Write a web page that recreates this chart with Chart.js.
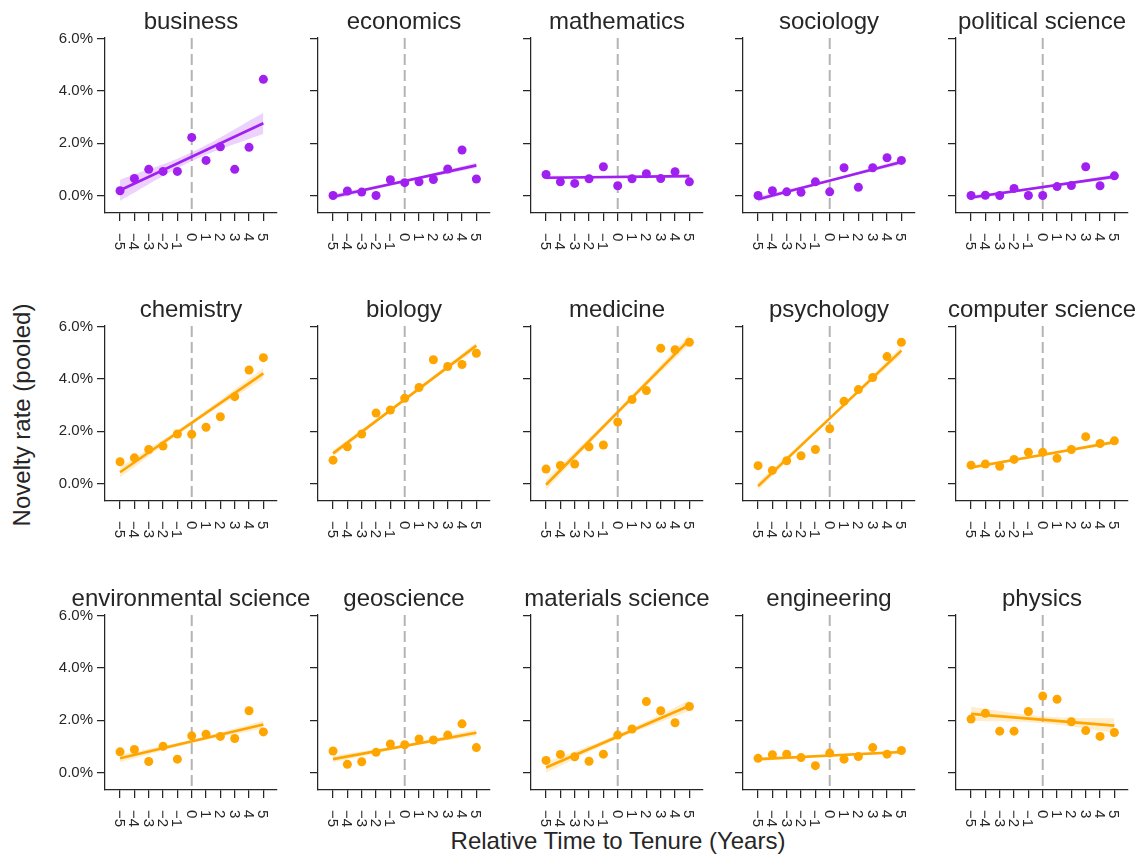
<!DOCTYPE html>
<html lang="en">
<head>
<meta charset="UTF-8">
<title>Novelty rate around tenure</title>
<script src="https://cdn.jsdelivr.net/npm/chart.js"></script>
<style>
  body { margin: 0; background: #fff; }
  #wrap { position: relative; width: 1142px; height: 857px; overflow: hidden;
          font-family: "Liberation Sans", Arial, sans-serif; color: #262626; }
  #wrap canvas { position: absolute; }
  .axis-title { position: absolute; font-size: 24px; white-space: nowrap; }
  #ytitle { left: 22px; top: 415px; transform: translate(-50%, -50%) rotate(-90deg); }
  #xtitle { left: 618px; top: 841px; transform: translate(-50%, -50%); }
</style>
</head>
<body>
<div id="wrap">
  <div class="axis-title" id="ytitle">Novelty rate (pooled)</div>
  <div class="axis-title" id="xtitle">Relative Time to Tenure (Years)</div>
</div>
<script>
// panels, left to right, top to bottom
const fields = ['business', 'economics', 'mathematics', 'sociology', 'political science',
                'chemistry', 'biology', 'medicine', 'psychology', 'computer science',
                'environmental science', 'geoscience', 'materials science', 'engineering', 'physics'];
const group = ['social', 'social', 'social', 'social', 'social',
               'other', 'other', 'other', 'other', 'other',
               'other', 'other', 'other', 'other', 'other'];

const years = [-5, -4, -3, -2, -1, 0, 1, 2, 3, 4, 5];
const yearLabels = ['\u22125', '\u22124', '\u22123', '\u22122', '\u22121', '0', '1', '2', '3', '4', '5'];
const yTicks = [0, 2, 4, 6];
const yTickLabels = ['0.0%', '2.0%', '4.0%', '6.0%'];

// novelty rate (%) per year relative to tenure
const business = [0.18, 0.65, 1.0, 0.92, 0.92, 2.22, 1.34, 1.86, 1.0, 1.84, 4.44];
const economics = [0.0, 0.17, 0.13, 0.0, 0.6, 0.49, 0.52, 0.61, 1.01, 1.74, 0.63];
const mathematics = [0.8, 0.52, 0.46, 0.64, 1.1, 0.37, 0.64, 0.83, 0.65, 0.91, 0.52];
const sociology = [0.0, 0.18, 0.14, 0.12, 0.52, 0.14, 1.06, 0.31, 1.06, 1.44, 1.34];
const politicalScience = [0.0, 0.01, 0.0, 0.27, 0.0, 0.0, 0.34, 0.38, 1.1, 0.37, 0.75];
const chemistry = [0.83, 0.98, 1.3, 1.43, 1.89, 1.88, 2.15, 2.55, 3.32, 4.34, 4.81];
const biology = [0.89, 1.4, 1.89, 2.69, 2.81, 3.26, 3.67, 4.73, 4.47, 4.55, 4.98];
const medicine = [0.55, 0.69, 0.74, 1.4, 1.47, 2.35, 3.21, 3.55, 5.17, 5.11, 5.4];
const psychology = [0.68, 0.5, 0.87, 1.06, 1.3, 2.09, 3.14, 3.59, 4.05, 4.85, 5.4];
const computerScience = [0.7, 0.74, 0.66, 0.92, 1.19, 1.19, 0.96, 1.3, 1.79, 1.53, 1.63];
const environmentalScience = [0.79, 0.88, 0.42, 1.0, 0.51, 1.4, 1.46, 1.38, 1.3, 2.36, 1.55];
const geoscience = [0.82, 0.31, 0.41, 0.77, 1.09, 1.06, 1.28, 1.24, 1.43, 1.86, 0.95];
const materialsScience = [0.46, 0.69, 0.6, 0.43, 0.7, 1.43, 1.66, 2.71, 2.36, 1.9, 2.52];
const engineering = [0.54, 0.68, 0.7, 0.57, 0.26, 0.74, 0.51, 0.61, 0.95, 0.7, 0.84];
const physics = [2.04, 2.26, 1.58, 1.58, 2.33, 2.92, 2.8, 1.94, 1.6, 1.38, 1.53];

// fitted line at year -5 and 5, and half width of its band (ends, middle)
const fitStart = [0.2, -0.05, 0.68, -0.14, -0.08, 0.43, 1.15, -0.05, -0.1, 0.61, 0.54, 0.51, 0.19, 0.51, 2.24];
const fitEnd = [2.76, 1.15, 0.74, 1.28, 0.72, 4.21, 5.27, 5.5, 5.08, 1.58, 1.83, 1.52, 2.55, 0.78, 1.79];
const bandEnd = [0.4, 0.1, 0.07, 0.1, 0.08, 0.2, 0.12, 0.2, 0.15, 0.07, 0.15, 0.12, 0.2, 0.07, 0.27];
const bandMid = [0.17, 0.05, 0.03, 0.05, 0.04, 0.09, 0.06, 0.09, 0.07, 0.03, 0.07, 0.06, 0.09, 0.03, 0.13];

const series = [business, economics, mathematics, sociology, politicalScience,
                chemistry, biology, medicine, psychology, computerScience,
                environmentalScience, geoscience, materialsScience, engineering, physics];

const colors = { social: '#a020f0', other: '#ffa500' };
const bands = { social: 'rgba(160, 32, 240, 0.2)', other: 'rgba(255, 165, 0, 0.2)' };

const panelLeft = [105, 318, 531, 743, 956];
const panelTop = [38, 326, 615];
const plotW = 172, plotH = 175;
const padL = 10, axisW = 60, padR = 58, padT = 40, axisH = 85;
const ink = '#262626';
const fontFamily = '"Liberation Sans", Arial, sans-serif';

const panelDecor = {
  id: 'panelDecor',
  beforeDatasetsDraw(chart) {
    const { ctx, chartArea, scales } = chart;
    const x0 = scales.x.getPixelForValue(0);
    ctx.save();
    ctx.strokeStyle = 'rgba(140, 140, 140, 0.65)';
    ctx.lineWidth = 2;
    ctx.setLineDash([11, 5]);
    ctx.beginPath();
    ctx.moveTo(x0, chartArea.top);
    ctx.lineTo(x0, chartArea.bottom);
    ctx.stroke();
    ctx.restore();
  },
  afterDraw(chart) {
    const { ctx, chartArea, scales } = chart;
    ctx.save();
    ctx.fillStyle = ink;
    ctx.font = '24px ' + fontFamily;
    ctx.textAlign = 'center';
    ctx.textBaseline = 'alphabetic';
    ctx.fillText(chart.options.panelTitle, (chartArea.left + chartArea.right) / 2, chartArea.top - 9);

    ctx.font = '15px ' + fontFamily;
    ctx.textAlign = 'left';
    ctx.textBaseline = 'middle';
    years.forEach((yr, k) => {
      const px = scales.x.getPixelForValue(yr);
      ctx.save();
      ctx.translate(px - 1, chartArea.bottom + 20);
      ctx.rotate(Math.PI / 2);
      ctx.fillText(yearLabels[k], 0, 0);
      ctx.restore();
    });
    ctx.restore();
  }
};

const wrap = document.getElementById('wrap');

fields.forEach((name, i) => {
  const col = i % 5, row = Math.floor(i / 5);
  const canvas = document.createElement('canvas');
  const w = padL + axisW + plotW + padR;
  const h = padT + plotH + axisH;
  canvas.width = w;
  canvas.height = h;
  canvas.style.width = w + 'px';
  canvas.style.height = h + 'px';
  canvas.style.left = (panelLeft[col] - padL - axisW) + 'px';
  canvas.style.top = (panelTop[row] - padT) + 'px';
  wrap.appendChild(canvas);

  const c = colors[group[i]];
  const mid = (fitStart[i] + fitEnd[i]) / 2;

  new Chart(canvas, {
    type: 'line',
    data: {
      datasets: [
        {
          data: [{ x: -5, y: fitStart[i] }, { x: 5, y: fitEnd[i] }],
          borderColor: c, borderWidth: 2.6, pointRadius: 0, fill: false
        },
        {
          data: [{ x: -5, y: fitStart[i] + bandEnd[i] }, { x: 0, y: mid + bandMid[i] }, { x: 5, y: fitEnd[i] + bandEnd[i] }],
          borderWidth: 0, pointRadius: 0, tension: 0.4, fill: '+1', backgroundColor: bands[group[i]]
        },
        {
          data: [{ x: -5, y: fitStart[i] - bandEnd[i] }, { x: 0, y: mid - bandMid[i] }, { x: 5, y: fitEnd[i] - bandEnd[i] }],
          borderWidth: 0, pointRadius: 0, tension: 0.4, fill: false
        },
        {
          type: 'scatter',
          data: years.map((yr, k) => ({ x: yr, y: series[i][k] })),
          backgroundColor: c, borderWidth: 0, pointRadius: 4.5, clip: false
        }
      ]
    },
    options: {
      panelTitle: name,
      responsive: false,
      animation: false,
      devicePixelRatio: 1,
      layout: { padding: { left: padL, right: padR, top: padT, bottom: 0 } },
      plugins: { legend: { display: false }, tooltip: { enabled: false }, title: { display: false } },
      scales: {
        x: {
          type: 'linear', min: -6.05, max: 5.95,
          afterBuildTicks: s => { s.ticks = years.map(v => ({ value: v })); },
          afterFit: s => { s.height = axisH; },
          ticks: { display: false },
          grid: { display: true, drawOnChartArea: false, drawTicks: true, tickLength: 8, color: ink, lineWidth: 1.25 },
          border: { display: true, color: ink, width: 1.25 }
        },
        y: {
          min: -0.67, max: 6.02,
          afterBuildTicks: s => { s.ticks = yTicks.map(v => ({ value: v })); },
          afterFit: s => { s.width = axisW; },
          ticks: {
            display: col === 0,
            padding: 4,
            color: ink,
            font: { size: 15, family: fontFamily },
            callback: v => yTickLabels[yTicks.indexOf(v)]
          },
          grid: { display: true, drawOnChartArea: false, drawTicks: true, tickLength: 8, color: ink, lineWidth: 1.25 },
          border: { display: true, color: ink, width: 1.25 }
        }
      }
    },
    plugins: [panelDecor]
  });
});
</script>
</body>
</html>
